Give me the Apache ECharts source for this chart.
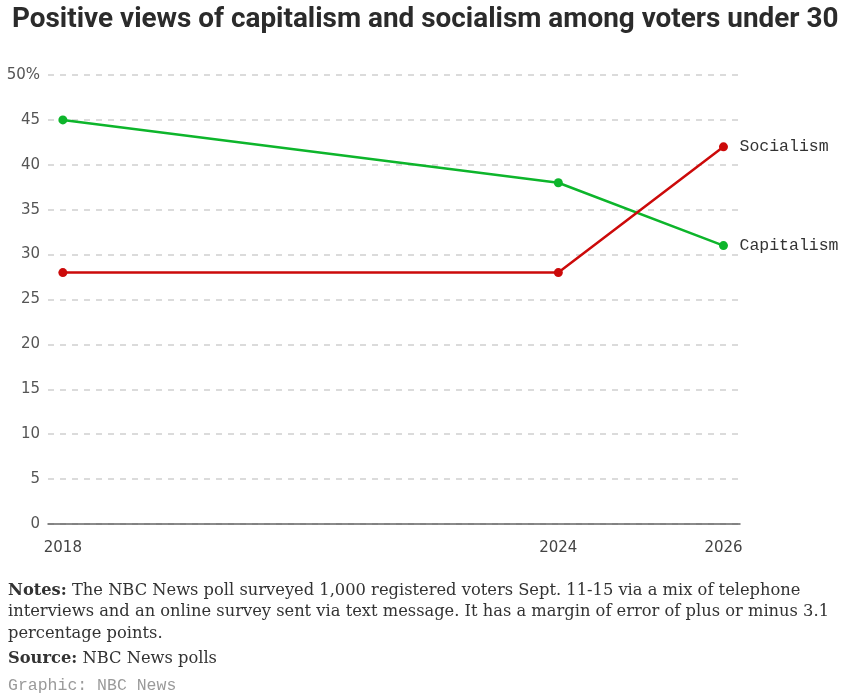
<!DOCTYPE html>
<html lang="en">
<head>
<meta charset="UTF-8">
<title>Capitalism and socialism</title>
<script src="https://cdn.jsdelivr.net/npm/echarts@6/dist/echarts.min.js"></script>
<style>
  html, body { margin: 0; padding: 0; background: #fff; }
  #main { width: 852px; height: 698px; }
</style>
</head>
<body>
<div id="main"></div>
<script type="text/javascript">
  // data
  var years = [2018, 2024, 2026];
  var capitalism = [45, 38, 31];
  var socialism = [28, 28, 42];
  var yTicks = [0, 5, 10, 15, 20, 25, 30, 35, 40, 45, 50];

  var green = '#0db52b';
  var red = '#cc0a0a';

  function pairs(vals) {
    return years.map(function (y, i) { return [y, vals[i]]; });
  }

  var myChart = echarts.init(document.getElementById('main'));

  myChart.setOption({
    animation: false,
    title: {
      text: 'Positive views of capitalism and socialism among voters under 30',
      left: 7, top: 1,
      textStyle: { fontFamily: 'Roboto', fontWeight: 'bold', fontSize: 27.9, color: '#2b2b2b' }
    },
    grid: { left: 48, right: 112, top: 75, bottom: 174 },
    xAxis: {
      type: 'value',
      min: 2017.82, max: 2026.2,
      splitLine: { show: false },
      axisTick: { show: false },
      axisLine: { show: true, lineStyle: { color: '#666', width: 1.5 } },
      axisLabel: {
        customValues: years,
        color: '#444', fontSize: 15, fontFamily: 'DejaVu Sans', margin: 17,
        formatter: function (v) { return String(v); }
      }
    },
    yAxis: {
      type: 'value',
      min: 0, max: 50, interval: 5,
      axisLine: { show: false },
      axisTick: { show: false },
      axisLabel: {
        color: '#555', fontSize: 15, fontFamily: 'DejaVu Sans', margin: 8,
        formatter: function (v) { return v === yTicks[yTicks.length - 1] ? v + '%' : String(v); }
      },
      splitLine: { lineStyle: { color: '#d0d0d0', type: [6, 6], width: 1.5 } }
    },
    series: [
      {
        name: 'Capitalism', type: 'line', data: pairs(capitalism),
        symbol: 'circle', symbolSize: 9,
        lineStyle: { color: green, width: 2.5 },
        itemStyle: { color: green },
        endLabel: { show: true, formatter: 'Capitalism', fontFamily: 'Liberation Mono', fontSize: 16.5, color: '#333', distance: 16 }
      },
      {
        name: 'Socialism', type: 'line', data: pairs(socialism),
        symbol: 'circle', symbolSize: 9,
        lineStyle: { color: red, width: 2.5 },
        itemStyle: { color: red },
        endLabel: { show: true, formatter: 'Socialism', fontFamily: 'Liberation Mono', fontSize: 16.5, color: '#333', distance: 16 }
      }
    ],
    graphic: [
      {
        type: 'text', left: 8, top: 580,
        style: {
          text: '{b|Notes:} The NBC News poll surveyed 1,000 registered voters Sept. 11-15 via a mix of telephone\ninterviews and an online survey sent via text message. It has a margin of error of plus or minus 3.1\npercentage points.',
          fontFamily: 'DejaVu Serif', fontSize: 16.3, lineHeight: 21.5, fill: '#333',
          rich: { b: { fontFamily: 'DejaVu Serif', fontSize: 16.3, fontWeight: 'bold', fill: '#333', lineHeight: 21.5 } }
        }
      },
      {
        type: 'text', left: 8, top: 651,
        style: {
          text: '{b|Source:} NBC News polls',
          fontFamily: 'DejaVu Serif', fontSize: 16.3, fill: '#333',
          rich: { b: { fontFamily: 'DejaVu Serif', fontSize: 16.3, fontWeight: 'bold', fill: '#333' } }
        }
      },
      {
        type: 'text', left: 8, top: 677,
        style: { text: 'Graphic: NBC News', fontFamily: 'Liberation Mono', fontSize: 16.5, fill: '#9a9a9a' }
      }
    ]
  });
</script>
</body>
</html>
